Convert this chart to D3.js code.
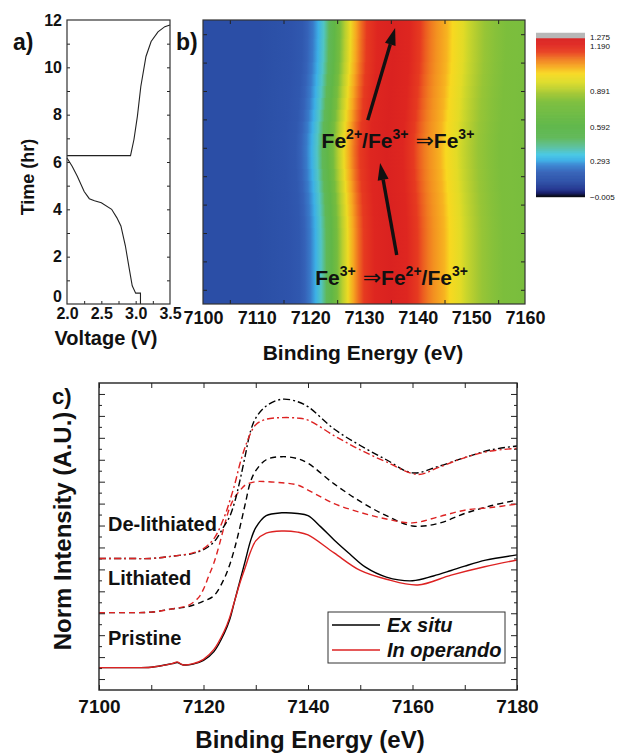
<!DOCTYPE html>
<html>
<head>
<meta charset="utf-8">
<script src="https://cdn.jsdelivr.net/npm/d3@7"></script>
<style>
  body { margin: 0; background: #fff; }
  svg { display: block; }
  text { font-family: Arial, "Liberation Sans", Helvetica, sans-serif; font-weight: bold; fill: #111; }
</style>
</head>
<body>
<svg id="fig" width="617" height="755"></svg>
<script>
// ---------- (a) voltage profile: discharge then charge ----------
const dischargeVoltage = [3.07, 3.07, 3.0, 2.95, 2.9, 2.85, 2.785, 2.725, 2.65, 2.5, 2.4, 2.325, 2.25, 2.15, 2.075, 2.0];
const dischargeTime    = [0.0, 0.46, 0.46, 0.77, 1.6, 2.46, 3.3, 3.65, 4.0, 4.28, 4.36, 4.45, 4.75, 5.4, 5.82, 6.17];
const chargeVoltage = [2.0, 2.925, 2.975, 3.025, 3.075, 3.15, 3.225, 3.325, 3.425, 3.5];
const chargeTime    = [6.27, 6.27, 6.95, 7.93, 9.19, 10.46, 11.09, 11.5, 11.72, 11.79];
const voltageTicks = [2.0, 2.5, 3.0, 3.5];
const timeTicks = [0, 2, 4, 6, 8, 10, 12];

// ---------- (b) operando map: normalised absorption vs energy and time ----------
const mapEnergy = [7100, 7105, 7110, 7113, 7116, 7118, 7119, 7120, 7121, 7122, 7123, 7124, 7125, 7126, 7127, 7128, 7129, 7130,
                   7132, 7135, 7138, 7140, 7141, 7142, 7143, 7144, 7145, 7146, 7147, 7148, 7149, 7150, 7151, 7152, 7154, 7156, 7158, 7160];
const mapValue  = [0.12, 0.12, 0.12, 0.13, 0.14, 0.16, 0.20, 0.24, 0.30, 0.38, 0.50, 0.62, 0.76, 0.90, 0.97, 1.03, 1.08, 1.12,
                   1.16, 1.18, 1.16, 1.12, 1.09, 1.07, 1.05, 1.035, 1.02, 0.99, 0.97, 0.95, 0.92, 0.90, 0.88, 0.85, 0.82, 0.80, 0.79, 0.78];
// scan times (hr) and the edge position of each scan relative to the first (eV)
const scanTime  = [0, 0.5, 1, 1.5, 2, 2.5, 3, 3.5, 4, 4.5, 5, 5.5, 6, 6.5, 7, 7.5, 8, 8.5, 9, 9.5, 10, 10.5, 11, 11.5, 12];
const edgeShift = [0, 0, 0, 0, 0, 0, -0.05, -0.1, -0.2, -0.3, -0.45, -0.6, -0.72, -0.75, -0.7, -0.55, -0.35, -0.15, 0, 0.15, 0.3, 0.4, 0.45, 0.5, 0.5];
const energyTicks = [7100, 7110, 7120, 7130, 7140, 7150, 7160];

// colour scale levels
const levelValue = [-0.005, 0.03, 0.06, 0.12, 0.20, 0.26, 0.30, 0.35, 0.42, 0.50, 0.60, 0.80, 0.88, 0.94, 0.99, 1.03, 1.07, 1.11, 1.15, 1.19];
const levelColor = ['#000000', '#141c6a', '#22358f', '#2b4ea6', '#3562b8', '#3a86d2', '#3cb0e6', '#48c8e4', '#5cc09a', '#60b858',
                    '#5eb648', '#7cbe3c', '#a8c932', '#dcdc28', '#f8d820', '#f6a820', '#f07a20', '#e84020', '#e02820', '#d82020'];
const overColor = '#b8b8b8';
const colorbarLabels = [1.275, 1.190, 0.891, 0.592, 0.293, -0.005];

// ---------- (c) Fe K-edge spectra ----------
const spectra = [
  { name: 'Pristine, ex situ', color: '#000', dash: null,
    e: [7100, 7105, 7110, 7114, 7115, 7116, 7118, 7120, 7122, 7124, 7125, 7126, 7127, 7128, 7129, 7130, 7132, 7135, 7138, 7140, 7142.4, 7145, 7148, 7151, 7155, 7160, 7164, 7167.4, 7170, 7174, 7180],
    v: [1.02, 1.02, 1.04, 1.2, 1.25, 1.15, 1.18, 1.35, 1.75, 2.6, 3.2, 4.1, 5.0, 5.9, 6.8, 7.4, 7.95, 8.08, 8.05, 7.95, 7.45, 6.84, 6.2, 5.6, 5.15, 4.98, 5.2, 5.45, 5.65, 5.92, 6.16] },
  { name: 'Pristine, in operando', color: '#d22', dash: null,
    e: [7100, 7105, 7110, 7114, 7115, 7116, 7118, 7120, 7122, 7124, 7125, 7126, 7127, 7128, 7129, 7130, 7132, 7135, 7138, 7140, 7145, 7150, 7155, 7161, 7167.4, 7173.8, 7180],
    v: [1.02, 1.02, 1.04, 1.2, 1.28, 1.15, 1.2, 1.4, 1.85, 2.7, 3.3, 4.1, 4.9, 5.6, 6.3, 6.8, 7.15, 7.25, 7.2, 7.07, 6.25, 5.45, 5.05, 4.79, 5.24, 5.62, 5.93] },
  { name: 'Lithiated, ex situ', color: '#000', dash: '6,4',
    e: [7100, 7105, 7110, 7114, 7117, 7120, 7122, 7124, 7125, 7126, 7127, 7128, 7129, 7130, 7132, 7135, 7138, 7140, 7145, 7150, 7155, 7160, 7165, 7170, 7175, 7180],
    v: [3.53, 3.53, 3.55, 3.7, 3.8, 4.05, 4.3, 5.1, 5.7, 6.5, 7.45, 8.5, 9.5, 10.0, 10.5, 10.64, 10.55, 10.34, 9.4, 8.6, 7.95, 7.48, 7.6, 8.05, 8.4, 8.66] },
  { name: 'Lithiated, in operando', color: '#d22', dash: '6,4',
    e: [7100, 7105, 7110, 7114, 7117, 7119, 7120, 7121, 7122, 7123, 7124, 7125, 7126, 7127, 7128, 7130, 7132, 7135, 7138, 7140, 7145, 7150, 7155, 7160, 7165, 7170, 7175, 7180],
    v: [3.53, 3.53, 3.55, 3.7, 3.85, 4.2, 4.6, 5.2, 5.8, 6.6, 7.5, 8.3, 8.8, 9.1, 9.35, 9.5, 9.5, 9.45, 9.35, 9.12, 8.5, 8.1, 7.8, 7.62, 7.9, 8.2, 8.32, 8.48] },
  { name: 'De-lithiated, ex situ', color: '#000', dash: '7,3,2,3',
    e: [7100, 7105, 7110, 7114, 7118, 7120, 7122, 7124, 7125, 7126, 7127, 7128, 7129, 7130, 7132, 7135, 7138, 7140, 7145, 7150, 7155, 7160, 7165, 7170, 7175, 7180],
    v: [6.0, 6.0, 6.0, 6.1, 6.23, 6.4, 6.75, 7.5, 7.9, 8.6, 9.58, 10.7, 11.8, 12.4, 12.95, 13.26, 13.15, 12.92, 11.9, 11.15, 10.5, 9.9, 10.2, 10.6, 10.95, 11.13] },
  { name: 'De-lithiated, in operando', color: '#d22', dash: '7,3,2,3',
    e: [7100, 7105, 7110, 7114, 7118, 7120, 7122, 7124, 7125, 7126, 7127, 7128, 7129, 7130, 7132, 7135, 7138, 7140, 7145, 7150, 7155, 7161, 7165, 7170, 7175, 7180],
    v: [6.0, 6.0, 6.0, 6.1, 6.25, 6.45, 6.9, 7.9, 8.6, 9.4, 10.34, 11.1, 11.7, 12.1, 12.35, 12.42, 12.4, 12.31, 11.6, 10.95, 10.4, 9.83, 10.15, 10.6, 10.9, 11.02] }
];
const stateLabels = ['De-lithiated', 'Lithiated', 'Pristine'];
const legendLabels = ['Ex situ', 'In operando'];
const spectraTicks = [7100, 7120, 7140, 7160, 7180];

// ================= drawing =================
const svg = d3.select('#fig');

function inwardTicks(g) {
  g.selectAll('.domain').remove();
  g.selectAll('line').attr('stroke', '#222').attr('stroke-width', 1);
}
function labelStyle(size) {
  return g => { g.selectAll('.domain').remove(); g.selectAll('text').style('font-size', size + 'px').attr('fill', '#111'); };
}

// ---------- panel a ----------
const ax = d3.scaleLinear([2.0, 3.5], [67, 170]);
const ay = d3.scaleLinear([0, 12], [304, 20]);
const pa = svg.append('g');
pa.append('g').attr('transform', 'translate(0,304)')
  .call(d3.axisBottom(ax).tickValues(d3.range(2.25, 3.5, 0.25)).tickSize(-3).tickFormat(''))
  .call(inwardTicks);
pa.append('g').attr('transform', 'translate(0,304)')
  .call(d3.axisBottom(ax).tickValues(voltageTicks).tickSize(0).tickPadding(4).tickFormat(d3.format('.1f')))
  .call(labelStyle(16));
pa.append('g').attr('transform', 'translate(67,0)')
  .call(d3.axisLeft(ay).tickValues(d3.range(1, 12, 1)).tickSize(-3).tickFormat(''))
  .call(inwardTicks);
pa.append('g').attr('transform', 'translate(170,0)')
  .call(d3.axisRight(ay).tickValues(d3.range(1, 12, 1)).tickSize(-3).tickFormat(''))
  .call(inwardTicks);
const aLeft = pa.append('g').attr('transform', 'translate(67,0)')
  .call(d3.axisLeft(ay).tickValues(timeTicks).tickSize(0).tickPadding(5))
  .call(labelStyle(16));
aLeft.selectAll('.tick').filter(d => d === 0).select('text').attr('dy', '-0.15em');

const voltLine = d3.line().x(d => ax(d[0])).y(d => ay(d[1]));
[d3.zip(dischargeVoltage, dischargeTime), d3.zip(chargeVoltage, chargeTime)].forEach(pts => {
  pa.append('path').datum(pts).attr('d', voltLine)
    .attr('fill', 'none').attr('stroke', '#222').attr('stroke-width', 1.1);
});
pa.append('rect').attr('x', 67).attr('y', 20).attr('width', 103).attr('height', 284)
  .attr('fill', 'none').attr('stroke', '#333').attr('stroke-width', 1.2);

pa.append('text').attr('x', 28).attr('y', 177).attr('transform', 'rotate(-90,28,177)')
  .attr('text-anchor', 'middle').attr('dy', '0.35em').style('font-size', '18px').text('Time (hr)');
pa.append('text').attr('x', 106).attr('y', 345).attr('text-anchor', 'middle').style('font-size', '20px').text('Voltage (V)');
pa.append('text').attr('x', 13).attr('y', 50).style('font-size', '23px').text('a)');

// ---------- panel b ----------
const bx = d3.scaleLinear([7100, 7160], [203, 525]);
const by = ay;
const color = d3.scaleLinear(levelValue, levelColor).clamp(true);
const colorOf = v => (v > levelValue[levelValue.length - 1] ? overColor : color(v));

const defs = svg.append('defs');
defs.append('clipPath').attr('id', 'mapClip')
  .append('rect').attr('x', 203).attr('y', 20).attr('width', 322).attr('height', 284);

const pb = svg.append('g');
const mapG = pb.append('g').attr('clip-path', 'url(#mapClip)');
const eSpan = mapEnergy[mapEnergy.length - 1] - mapEnergy[0];
scanTime.forEach((t, i) => {
  const id = 'scan' + i;
  const grad = defs.append('linearGradient').attr('id', id)
    .attr('gradientUnits', 'userSpaceOnUse')
    .attr('x1', bx(mapEnergy[0] + edgeShift[i])).attr('x2', bx(mapEnergy[mapEnergy.length - 1] + edgeShift[i]))
    .attr('y1', 0).attr('y2', 0);
  mapEnergy.forEach((e, j) => {
    grad.append('stop').attr('offset', (e - mapEnergy[0]) / eSpan).attr('stop-color', colorOf(mapValue[j]));
  });
  const tTop = i === scanTime.length - 1 ? 12.5 : t + 0.25;
  const tBot = i === 0 ? -0.5 : t - 0.25;
  mapG.append('rect').attr('x', 200).attr('width', 330)
    .attr('y', by(tTop)).attr('height', by(tBot) - by(tTop) + 1)
    .attr('fill', `url(#${id})`);
});

// ticks sit at the mid-points between labelled values
pb.append('g').attr('transform', 'translate(0,304)')
  .call(d3.axisBottom(bx).tickValues(d3.range(7105, 7160, 10)).tickSize(-4).tickFormat(''))
  .call(inwardTicks);
pb.append('g').attr('transform', 'translate(0,20)')
  .call(d3.axisTop(bx).tickValues(d3.range(7105, 7160, 10)).tickSize(-4).tickFormat(''))
  .call(inwardTicks);
const frac = d3.range(0.5, 10, 1).map(k => 12 * k / 10);
pb.append('g').attr('transform', 'translate(525,0)')
  .call(d3.axisRight(by).tickValues(frac).tickSize(-4).tickFormat(''))
  .call(inwardTicks);
pb.append('g').attr('transform', 'translate(203,0)')
  .call(d3.axisLeft(by).tickValues(frac).tickSize(-4).tickFormat(''))
  .call(inwardTicks);
pb.append('g').attr('transform', 'translate(0,304)')
  .call(d3.axisBottom(bx).tickValues(energyTicks).tickSize(0).tickPadding(7).tickFormat(d3.format('d')))
  .call(labelStyle(18));
pb.append('rect').attr('x', 203).attr('y', 20).attr('width', 322).attr('height', 284)
  .attr('fill', 'none').attr('stroke', '#333').attr('stroke-width', 1.2);

// arrows showing the direction of the edge shift
function arrow(e0, t0, e1, t1) {
  const x0 = bx(e0), y0 = by(t0), x1 = bx(e1), y1 = by(t1);
  const a = Math.atan2(y1 - y0, x1 - x0), L = 17, W = 5.5;
  const hx = x1 - L * Math.cos(a), hy = y1 - L * Math.sin(a);
  pb.append('line').attr('x1', x0).attr('y1', y0).attr('x2', hx).attr('y2', hy)
    .attr('stroke', '#111').attr('stroke-width', 3.4);
  pb.append('path').attr('fill', '#111')
    .attr('d', `M${x1},${y1}L${hx + W * Math.sin(a)},${hy - W * Math.cos(a)}L${hx - W * Math.sin(a)},${hy + W * Math.cos(a)}Z`);
}
arrow(7130.7, 7.77, 7135.8, 11.66);
arrow(7136.1, 2.07, 7133.0, 5.96);

// ion labels with superscript charges
function ionText(x, y, parts) {
  const t = pb.append('text').attr('x', x).attr('y', y).style('font-size', '21px');
  let raised = false;
  parts.forEach(p => {
    const s = t.append('tspan').text(p.s);
    if (p.sup) { s.attr('dy', -9).style('font-size', '14px'); raised = true; return; }
    if (raised) { s.attr('dy', 9); raised = false; }
    if (p.arrow) s.style('font-family', '"DejaVu Sans", sans-serif').style('font-weight', 'normal').style('font-size', '22px');
  });
}
ionText(bx(7122.1), by(6.58), [{ s: 'Fe' }, { s: '2+', sup: 1 }, { s: '/Fe' }, { s: '3+', sup: 1 }, { s: ' \u21D2', arrow: 1 }, { s: 'Fe' }, { s: '3+', sup: 1 }]);
ionText(bx(7120.9), by(0.8), [{ s: 'Fe' }, { s: '3+', sup: 1 }, { s: ' \u21D2', arrow: 1 }, { s: 'Fe' }, { s: '2+', sup: 1 }, { s: '/Fe' }, { s: '3+', sup: 1 }]);

pb.append('text').attr('x', 363).attr('y', 360).attr('text-anchor', 'middle').style('font-size', '21px').text('Binding Energy (eV)');
pb.append('text').attr('x', 176).attr('y', 50).style('font-size', '23px').text('b)');

// colour bar (level spacing follows the labelled levels)
const cbY = d3.scaleLinear([-0.005, 0.293, 0.592, 0.891, 1.190, 1.275], [197, 161, 127, 91, 38, 33]);
const cbar = svg.append('g');
const steps = d3.range(-0.005, 1.275, 0.0025);
cbar.selectAll('rect').data(steps).join('rect')
  .attr('x', 536).attr('width', 49)
  .attr('y', d => cbY(d + 0.0025) - 0.2).attr('height', d => cbY(d) - cbY(d + 0.0025) + 0.4)
  .attr('fill', d => colorOf(d));
const cbBaseline = [40, 48.5, 94, 130, 164, 200];
cbar.selectAll('text').data(colorbarLabels).join('text')
  .attr('x', 590).attr('y', (d, i) => cbBaseline[i])
  .style('font-size', '8px').style('font-weight', 'normal').attr('fill', '#333')
  .text(d => d3.format('.3f')(d));

// ---------- panel c ----------
const cx = d3.scaleLinear([7100, 7180], [99, 517]);
const cyS = d3.scaleLinear([0, 14], [690, 383]);
const pc = svg.append('g');
pc.append('g').attr('transform', 'translate(0,690)')
  .call(d3.axisBottom(cx).tickValues(d3.range(7100, 7181, 10)).tickSize(-5).tickFormat(''))
  .call(inwardTicks);
pc.append('g').attr('transform', 'translate(0,383)')
  .call(d3.axisTop(cx).tickValues(d3.range(7100, 7181, 10)).tickSize(-5).tickFormat(''))
  .call(inwardTicks);
[[99, d3.axisLeft], [517, d3.axisRight]].forEach(([x0, mk]) => {
  pc.append('g').attr('transform', `translate(${x0},0)`)
    .call(mk(cyS).tickValues(d3.range(0.5, 14, 1)).tickSize(-6).tickFormat(''))
    .call(inwardTicks);
  pc.append('g').attr('transform', `translate(${x0},0)`)
    .call(mk(cyS).tickValues(d3.range(1, 14, 1)).tickSize(-3).tickFormat(''))
    .call(inwardTicks);
});
pc.append('g').attr('transform', 'translate(0,690)')
  .call(d3.axisBottom(cx).tickValues(spectraTicks).tickSize(0).tickPadding(10).tickFormat(d3.format('d')))
  .call(labelStyle(19));

const specLine = d3.line().curve(d3.curveCatmullRom.alpha(0.5)).x(d => cx(d[0])).y(d => cyS(d[1]));
spectra.forEach(s => {
  pc.append('path').datum(d3.zip(s.e, s.v)).attr('d', specLine)
    .attr('fill', 'none').attr('stroke', s.color).attr('stroke-width', 1.4)
    .attr('stroke-dasharray', s.dash);
});
pc.append('rect').attr('x', 99).attr('y', 383).attr('width', 418).attr('height', 307)
  .attr('fill', 'none').attr('stroke', '#222').attr('stroke-width', 1.4);

const stateY = [531, 585, 645];
stateLabels.forEach((s, i) => pc.append('text').attr('x', 108).attr('y', stateY[i]).style('font-size', '20px').text(s));

// legend
const lg = pc.append('g');
lg.append('rect').attr('x', 328).attr('y', 612).attr('width', 177).attr('height', 51)
  .attr('fill', '#fff').attr('stroke', '#333').attr('stroke-width', 1);
legendLabels.forEach((s, i) => {
  const yy = 625 + i * 25;
  lg.append('line').attr('x1', 332).attr('x2', 380).attr('y1', yy).attr('y2', yy)
    .attr('stroke', i === 0 ? '#000' : '#d22').attr('stroke-width', 1.4);
  lg.append('text').attr('x', 387).attr('y', yy + 7).style('font-size', '20px').style('font-style', 'italic').text(s);
});

pc.append('text').attr('x', 63).attr('y', 531).attr('transform', 'rotate(-90,63,531)')
  .attr('text-anchor', 'middle').attr('dy', '0.35em').style('font-size', '24px').text('Norm Intensity (A.U.)');
pc.append('text').attr('x', 310).attr('y', 748).attr('text-anchor', 'middle').style('font-size', '24px').text('Binding Energy (eV)');
pc.append('text').attr('x', 52).attr('y', 404).style('font-size', '22px').text('c)');
</script>
</body>
</html>
